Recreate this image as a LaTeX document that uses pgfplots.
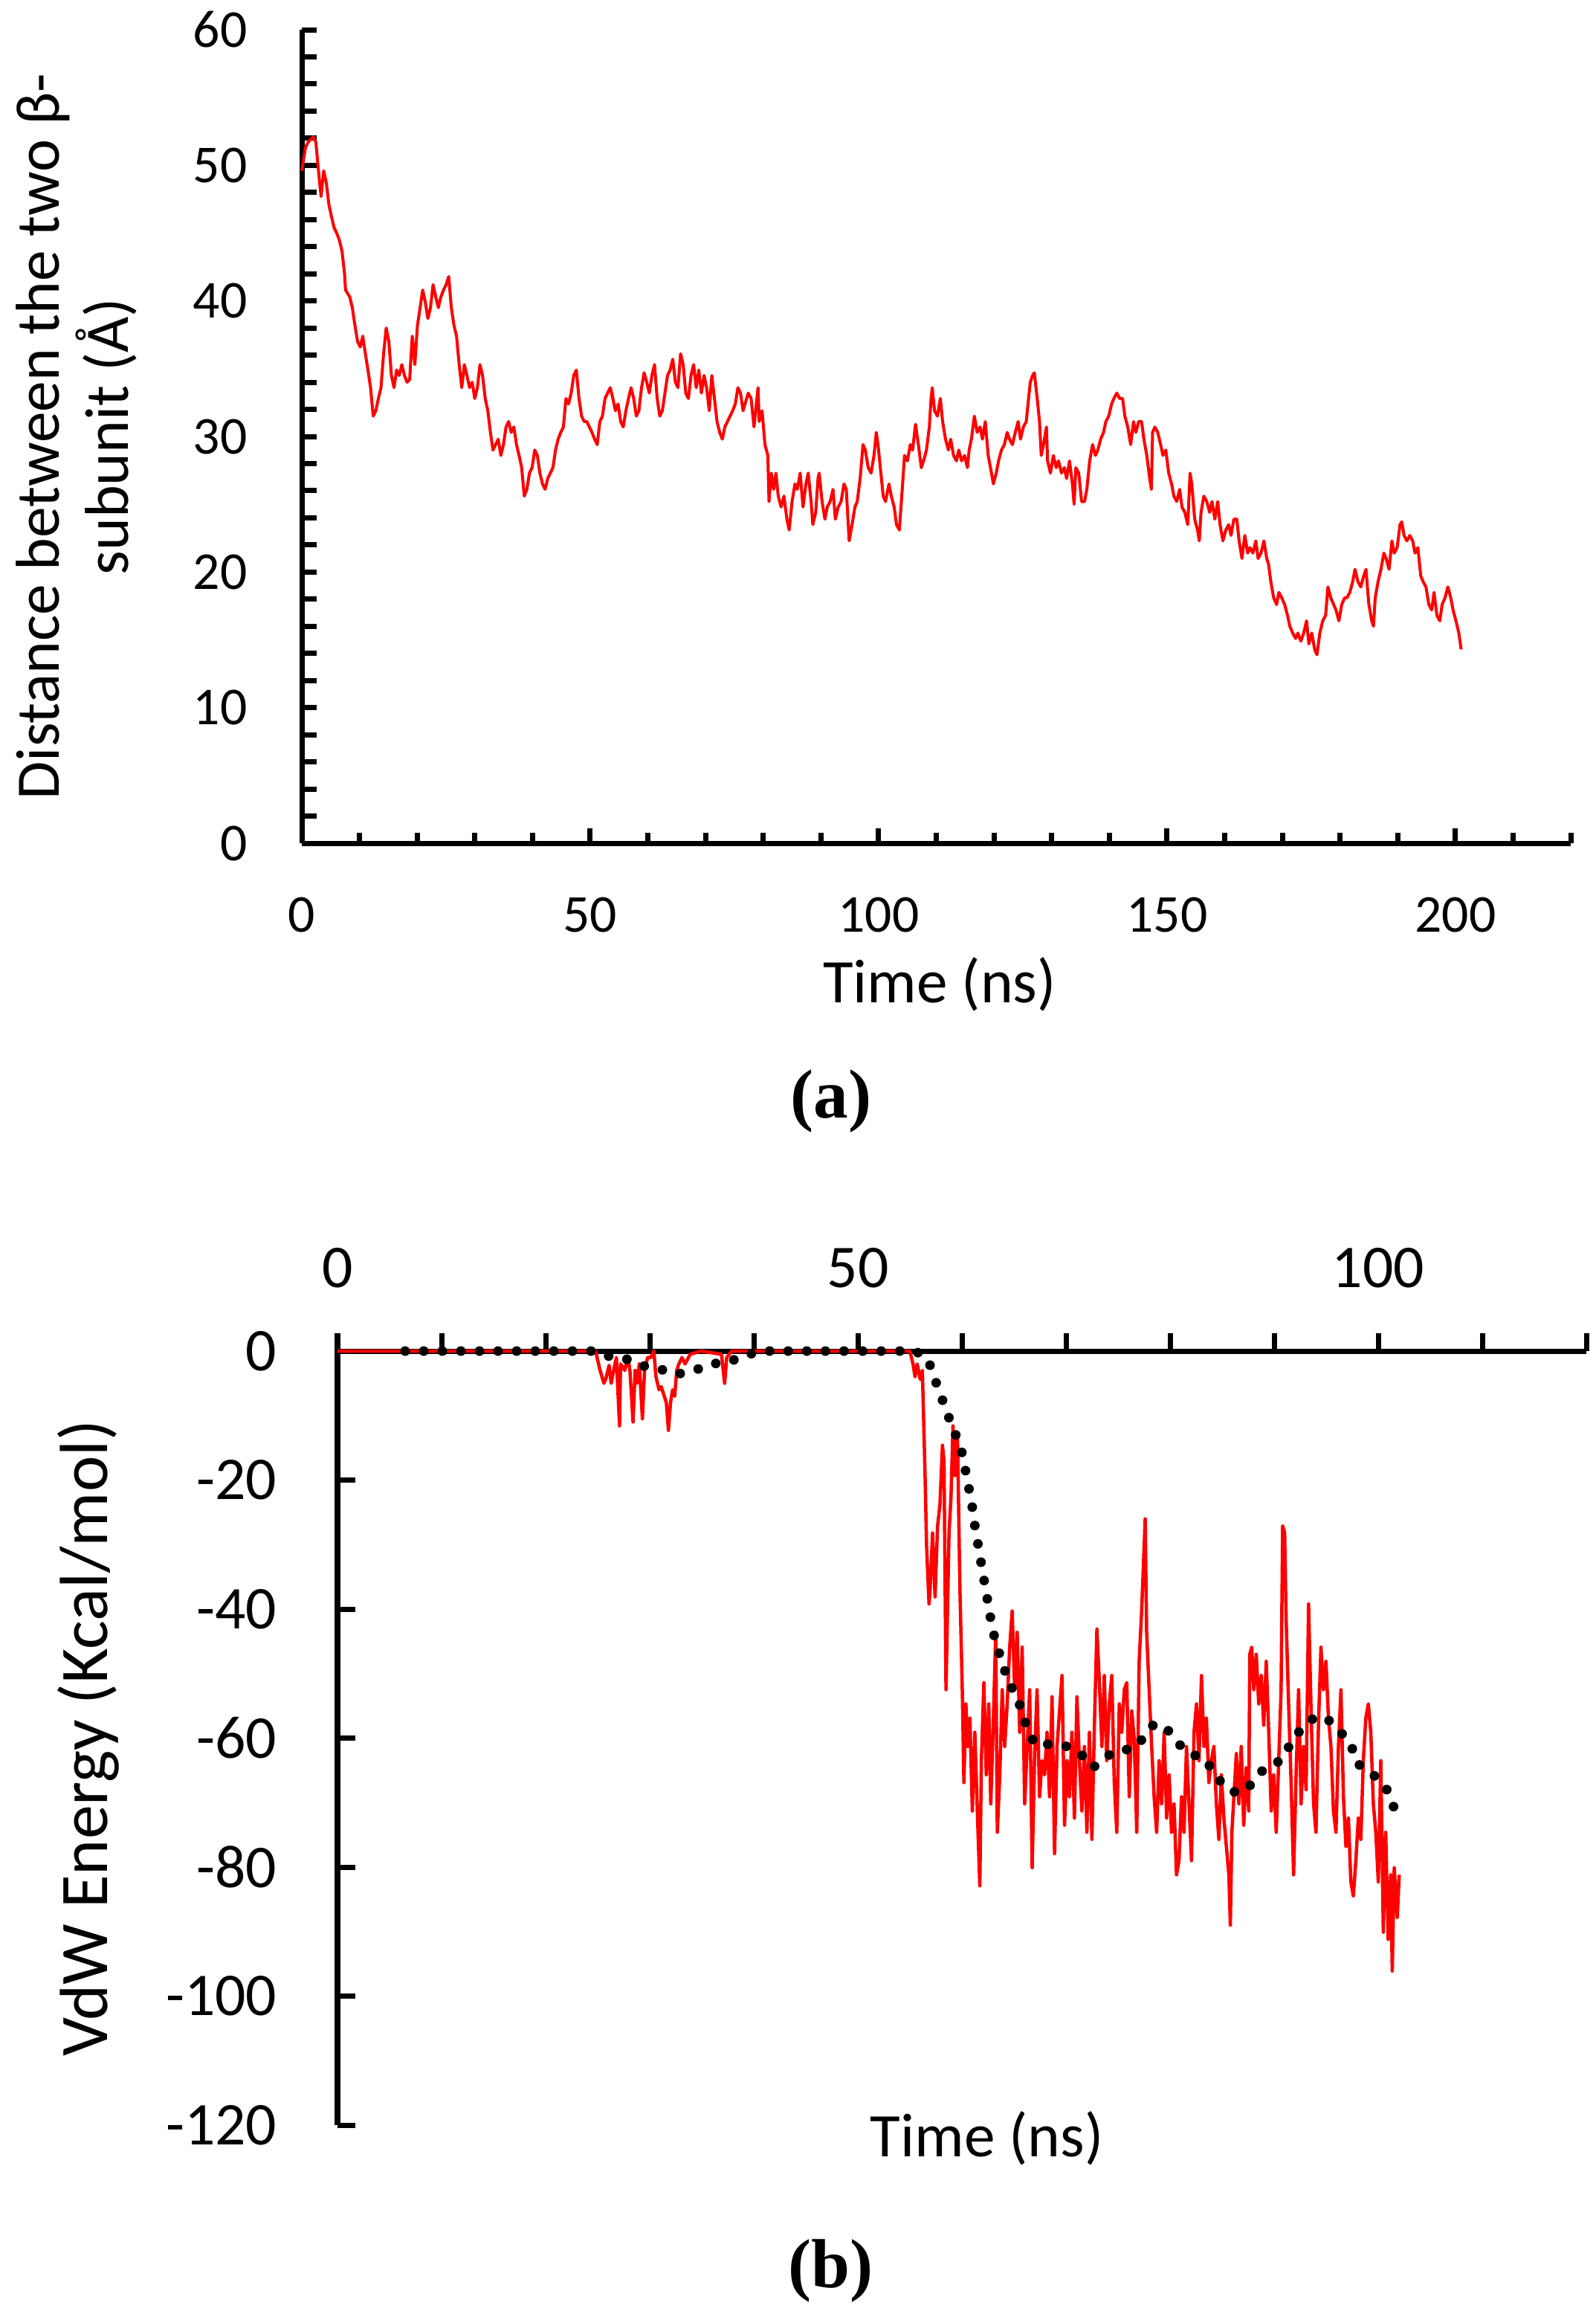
\documentclass[border=0pt]{standalone}
\usepackage{pgfplots}
\pgfplotsset{compat=1.18}
\usepackage{fontspec}
\setmainfont{Carlito}
\newfontfamily\timesfont{Liberation Serif}
\begin{document}
\begin{tikzpicture}
\useasboundingbox (0,0) rectangle (644.1pt,-931.2pt);
% ---------------- panel (a) ----------------
\begin{axis}[
  at={(121.8pt,-340.2pt)}, anchor=south west,
  width=512.1pt, height=328.2pt, scale only axis,
  xmin=0, xmax=220, ymin=0, ymax=60,
  axis lines=left, axis line style={-, line width=2.1pt, black},
  clip=false,
  /pgf/number format/assume math mode=true,
  xtick={0,50,...,200}, xticklabels={0,50,100,150,200},
  minor xtick={10,20,...,220},
  ytick={0,2,...,60},
  yticklabels={0,,,,,10,,,,,20,,,,,30,,,,,40,,,,,50,,,,,60},
  tick align=inside,
  major tick length=6pt, minor tick length=4.2pt,
  tick style={black, line width=2.1pt},
  tick label style={font=\fontsize{21.5}{25}\selectfont, inner sep=0pt},
  xticklabel style={anchor=center, yshift=-28.8pt},
  yticklabel style={anchor=east, xshift=-21.9pt},
  xlabel={Time (ns)},
  xlabel style={at={(axis description cs:0.5026,-0.1737)}, anchor=center, font=\fontsize{25}{28}\selectfont, inner sep=0pt},
  ylabel={Distance between the two β-\\subunit (Å)},
  ylabel style={at={(axis description cs:-0.1778,0.5)}, anchor=center, align=center, font=\fontsize{25}{27.9}\selectfont, inner sep=0pt},
]
\addplot[red, line width=1.2pt, line join=round] table[row sep=\\] {
t v\\
0 49.6\\ 0.63 51.3\\ 1.08 51.7\\ 1.99 52.1\\ 2.44 51.7\\ 2.89 49.6\\ 3.34 47.7\\ 3.79 49.6\\ 4.25 48.7\\ 4.70 47.1\\
5.15 46.2\\ 5.60 45.4\\ 6.05 45.0\\ 6.50 44.5\\ 6.96 43.7\\ 7.41 42.0\\ 7.59 40.8\\ 8.31 40.3\\ 8.76 39.5\\ 9.21 38.2\\
9.67 37.0\\ 10.12 36.6\\ 10.57 37.4\\ 11.02 36.1\\ 11.47 34.9\\ 11.92 33.6\\ 12.38 31.5\\ 12.83 31.9\\ 13.28 32.8\\ 13.73 33.6\\
14.18 36.1\\ 14.63 38.0\\ 15.09 37.0\\ 15.54 34.5\\ 15.99 33.6\\ 16.44 34.9\\ 16.89 34.5\\ 17.34 35.3\\ 17.80 34.5\\ 18.25 34.0\\
18.70 34.2\\ 19.15 37.4\\ 19.60 35.3\\ 20.05 38.2\\ 20.51 39.5\\ 20.96 40.8\\ 21.41 39.9\\ 21.86 38.7\\ 22.31 39.5\\ 22.76 41.2\\
23.22 40.3\\ 23.67 39.5\\ 24.12 40.3\\ 24.57 40.8\\ 25.02 41.2\\ 25.47 41.8\\ 25.92 39.5\\ 26.38 38.2\\ 26.83 37.4\\ 27.28 35.3\\
27.73 33.6\\ 28.18 35.3\\ 28.63 34.5\\ 29.09 33.6\\ 29.54 34.0\\ 29.99 32.8\\ 30.44 33.6\\ 30.89 35.3\\ 31.34 34.5\\ 31.80 32.8\\
32.25 31.9\\ 32.70 30.3\\ 33.15 29.0\\ 33.60 29.4\\ 34.05 29.8\\ 34.51 28.6\\ 34.96 29.4\\ 35.41 30.7\\ 35.86 31.1\\ 36.31 30.3\\
36.76 30.7\\ 37.22 29.4\\ 37.67 28.6\\ 38.12 27.7\\ 38.57 25.6\\ 39.02 26.1\\ 39.47 27.3\\ 39.93 27.7\\ 40.38 29.0\\ 40.83 28.6\\
41.28 27.3\\ 41.73 26.5\\ 42.18 26.1\\ 42.64 26.9\\ 43.09 27.3\\ 43.54 27.7\\ 43.99 29.0\\ 44.44 29.8\\ 44.89 30.3\\ 45.35 30.7\\
45.80 32.8\\ 46.25 32.4\\ 46.70 33.2\\ 47.15 34.5\\ 47.60 34.9\\ 48.06 32.8\\ 48.51 31.5\\ 48.96 31.1\\ 49.41 31.1\\ 49.86 30.7\\
50.31 30.3\\ 50.77 29.8\\ 51.22 29.4\\ 51.67 31.1\\ 52.12 31.5\\ 52.57 32.8\\ 53.02 33.2\\ 53.48 33.6\\ 53.93 32.8\\ 54.38 31.9\\
54.83 32.4\\ 55.28 31.1\\ 55.73 30.7\\ 56.19 31.9\\ 56.64 32.8\\ 57.09 33.6\\ 57.54 32.8\\ 57.99 31.5\\ 58.44 31.9\\ 58.90 33.6\\
59.35 34.7\\ 59.80 34.0\\ 60.25 33.2\\ 60.70 34.5\\ 61.15 35.3\\ 61.61 32.8\\ 62.06 31.5\\ 62.51 31.9\\ 62.96 33.2\\ 63.41 34.5\\
63.86 34.9\\ 64.32 35.7\\ 64.77 34.0\\ 65.22 33.6\\ 65.67 36.1\\ 66.12 35.3\\ 66.57 33.2\\ 67.03 32.8\\ 67.48 34.5\\ 67.93 35.3\\
68.38 33.6\\ 68.83 34.9\\ 69.28 33.2\\ 69.74 34.5\\ 70.19 33.6\\ 70.64 31.9\\ 71.09 34.5\\ 71.54 32.8\\ 71.99 31.1\\ 72.45 30.3\\
72.90 29.8\\ 73.35 30.7\\ 73.80 31.1\\ 74.25 31.5\\ 74.70 31.9\\ 75.16 32.4\\ 75.61 33.6\\ 76.06 33.2\\
76.5 31.9\\ 77.4 33.2\\ 77.9 32.8\\ 78.4 30.7\\ 79.1 33.6\\ 79.3 31.1\\ 79.8 31.9\\ 80.3 29.4\\ 80.8 28.6\\ 81.0 25.2\\
81.4 27.3\\ 81.8 26.1\\ 82.2 27.3\\ 82.6 25.6\\ 83.1 24.8\\ 83.6 25.6\\ 84.1 23.9\\ 84.5 23.1\\ 85.0 25.2\\ 85.5 26.5\\
85.9 26.1\\ 86.4 27.3\\ 86.9 24.8\\ 87.4 26.5\\ 87.8 27.3\\ 88.3 25.2\\ 88.6 23.5\\ 89.1 24.4\\ 89.5 26.9\\ 89.7 27.3\\
90.2 25.2\\ 90.7 23.9\\ 91.1 24.8\\ 91.6 25.2\\ 92.1 26.1\\ 92.5 23.9\\ 93.0 24.8\\ 93.5 25.2\\ 94.0 26.5\\ 94.4 26.1\\
94.9 22.3\\ 95.4 23.5\\ 95.9 24.8\\ 96.3 25.2\\ 96.8 26.9\\ 97.3 29.4\\ 97.7 29.0\\ 98.2 27.7\\ 98.7 27.3\\ 99.2 28.6\\
99.6 30.3\\ 99.9 29.4\\ 100.3 27.7\\ 100.8 25.6\\ 101.2 25.2\\ 101.8 26.5\\ 102.2 25.6\\ 102.7 24.8\\ 103.1 23.5\\ 103.6 23.1\\
104.1 26.1\\ 104.5 28.6\\ 105.0 28.2\\ 105.5 29.4\\ 105.9 29.0\\ 106.4 30.9\\ 106.9 29.4\\ 107.4 27.7\\ 107.8 28.2\\ 108.3 29.0\\
108.8 30.7\\ 109.1 32.8\\ 109.3 33.6\\ 109.7 31.9\\ 110.2 31.5\\ 110.7 32.8\\ 111.1 31.1\\ 111.6 29.8\\ 112.1 29.0\\ 112.5 29.8\\
113.0 28.6\\ 113.5 28.2\\ 113.9 29.0\\ 114.4 28.2\\ 114.9 28.6\\ 115.4 27.7\\ 115.7 29.0\\ 116.1 29.8\\ 116.6 31.5\\ 117.1 30.3\\
117.6 30.7\\ 118.0 29.8\\ 118.5 31.1\\ 119.0 28.6\\ 119.4 27.7\\ 119.9 26.5\\ 120.4 27.3\\ 120.8 28.2\\ 121.3 29.0\\ 121.8 29.4\\
122.3 30.3\\ 122.7 29.8\\ 123.2 29.4\\ 123.7 30.3\\ 124.2 31.1\\ 124.6 29.8\\ 125.1 30.7\\ 125.6 31.1\\ 126.0 32.8\\ 126.3 34.0\\
126.7 34.5\\ 127.0 34.7\\ 127.5 32.8\\ 127.9 31.1\\ 128.2 28.6\\ 128.6 29.4\\ 129.1 30.7\\ 129.3 28.2\\ 129.8 27.3\\ 130.3 28.6\\
130.8 27.7\\ 131.2 28.2\\ 131.7 27.3\\ 132.2 27.7\\ 132.6 26.9\\ 133.1 28.2\\ 133.6 26.5\\ 133.9 25.0\\ 134.2 27.7\\ 134.7 27.3\\
135.2 25.2\\ 135.7 25.2\\ 136.1 26.1\\ 136.6 28.2\\ 137.1 29.4\\ 137.6 28.6\\ 138.0 29.0\\ 138.5 29.8\\ 139.0 30.3\\ 139.4 31.1\\
139.9 31.5\\ 140.4 32.4\\ 140.8 32.8\\ 141.3 33.2\\ 141.8 32.8\\ 142.3 32.8\\ 142.7 31.5\\ 143.2 30.7\\ 143.7 29.4\\ 144.2 31.1\\
144.6 30.3\\ 145.1 31.1\\ 145.6 31.1\\ 146.0 29.8\\ 146.5 28.6\\ 147.0 26.9\\ 147.3 26.1\\ 147.5 30.3\\ 147.9 30.7\\ 148.4 30.3\\
148.9 29.4\\ 149.3 28.6\\ 149.8 29.0\\ 150.3 27.3\\ 150.8 26.5\\ 151.2 25.6\\ 151.7 25.2\\ 152.2 26.1\\ 152.6 24.8\\ 153.1 24.4\\
153.6 23.5\\ 154.0 27.3\\ 154.3 26.5\\ 154.8 23.9\\ 155.3 23.1\\ 155.6 22.3\\ 155.9 24.4\\ 156.4 25.6\\ 156.9 25.2\\ 157.4 24.4\\
157.8 25.2\\ 158.3 23.9\\ 158.8 25.2\\ 159.2 23.5\\ 159.7 22.3\\ 160.2 23.1\\ 160.7 23.5\\ 161.1 22.7\\ 161.6 23.9\\ 162.1 23.9\\
162.5 22.3\\ 163.0 21.0\\ 163.5 22.7\\ 164.0 21.4\\ 164.4 21.8\\ 164.9 21.4\\ 165.4 22.3\\ 165.8 21.0\\ 166.3 21.4\\ 166.8 22.3\\
167.3 21.0\\ 167.6 20.6\\ 168.0 19.3\\ 168.5 18.1\\ 169.0 17.6\\ 169.4 18.5\\ 169.9 18.1\\ 170.4 17.6\\ 170.9 16.8\\ 171.3 16.0\\
171.8 15.5\\ 172.3 15.1\\ 172.7 15.5\\ 173.2 14.9\\ 173.7 15.5\\ 174.2 16.4\\ 174.6 14.7\\ 175.1 15.5\\ 175.6 14.3\\ 176.0 13.9\\
176.5 15.5\\ 177.0 16.4\\ 177.5 16.8\\ 177.9 18.9\\ 178.4 18.1\\ 178.9 17.6\\ 179.3 17.2\\ 179.8 16.4\\ 180.3 17.6\\ 180.8 18.1\\
181.2 18.1\\ 181.7 18.5\\ 182.2 19.3\\ 182.6 20.2\\ 183.1 19.3\\ 183.6 18.9\\ 184.1 19.7\\ 184.5 20.2\\ 185.0 17.6\\ 185.5 16.4\\
185.8 16.0\\ 186.1 18.1\\ 186.6 19.3\\ 187.1 20.2\\ 187.6 21.4\\ 188.0 21.0\\ 188.5 20.2\\ 189.0 22.3\\ 189.4 21.4\\ 189.9 21.8\\
190.4 23.5\\ 190.7 23.7\\ 191.1 22.7\\ 191.6 22.3\\ 192.1 22.7\\ 192.6 22.3\\ 193.0 21.4\\ 193.5 21.8\\ 194.0 19.7\\ 194.4 19.3\\
194.9 18.9\\ 195.4 17.6\\ 195.9 17.2\\ 196.3 18.5\\ 196.8 16.8\\ 197.3 16.4\\ 197.7 17.6\\ 198.2 18.1\\ 198.7 18.9\\ 199.2 18.1\\
199.6 17.2\\ 200.1 16.4\\ 200.6 15.5\\ 201.0 14.3\\
};
\end{axis}
\node[font={\timesfont\bfseries\fontsize{28}{30}\selectfont}, inner sep=0pt] at (335.3pt,-444.3pt) {(a)};
% ---------------- panel (b) ----------------
\begin{axis}[
  at={(136.2pt,-857.4pt)}, anchor=south west,
  width=504pt, height=312.3pt, scale only axis,
  xmin=0, xmax=120, ymin=-120, ymax=0,
  axis x line=top, axis y line=left,
  axis line style={-, line width=2.1pt, black},
  clip=false,
  /pgf/number format/assume math mode=true,
  xtick={0,10,...,120}, xticklabels={0,,,,,50,,,,,100,,},
  ytick={-120,-100,...,0}, yticklabels={-120,-100,-80,-60,-40,-20,0},
  xtick align=outside, ytick align=inside,
  major tick length=7.2pt,
  tick style={black, line width=2.1pt},
  tick label style={font=\fontsize{24.5}{28}\selectfont, inner sep=0pt},
  xticklabel style={anchor=center, yshift=26.4pt},
  yticklabel style={anchor=east, xshift=-24.3pt},
  xlabel={Time (ns)},
  xlabel style={at={(axis description cs:0.52,-0.0173)}, anchor=center, font=\fontsize{25}{28}\selectfont, inner sep=0pt},
  ylabel={VdW Energy (Kcal/mol)},
  ylabel style={at={(axis description cs:-0.1994,0.5)}, anchor=center, font=\fontsize{27.5}{30}\selectfont, inner sep=0pt},
]
\addplot[red, line width=1.35pt, line join=round] table[row sep=\\] {
t v\\
0 0\\ 24.8 0\\ 25.2 -2.8\\ 25.6 -5.0\\ 25.8 -4.2\\ 26.1 -2.2\\ 26.3 -5.0\\ 26.6 -2.5\\ 26.8 -1.0\\ 27.1 -11.6\\
27.2 -2.0\\ 27.6 -3.0\\ 27.9 -1.0\\ 28.1 -3.0\\ 28.4 -11.0\\ 28.6 -3.0\\ 28.8 -5.0\\ 29.0 -2.0\\ 29.3 -10.5\\ 29.5 -3.0\\
29.8 -1.0\\ 30.1 -1.0\\ 30.4 0\\ 30.6 -4.0\\ 30.9 -6.0\\ 31.1 -5.5\\ 31.4 -7.0\\ 31.6 -8.0\\ 31.8 -12.3\\ 32.0 -8.0\\
32.2 -6.0\\ 32.4 -7.0\\ 32.6 -3.0\\ 32.8 -2.0\\ 33.1 -1.0\\ 33.4 -2.0\\ 33.9 -0.5\\ 34.9 0\\ 36.9 -0.5\\ 37.2 -5.0\\
37.4 -1.0\\ 37.9 0\\ 55.0 0\\ 55.3 -2.0\\ 55.5 -4.0\\ 55.7 -2.0\\ 56.0 -4.4\\ 56.2 -3.0\\ 56.46 -19.3\\ 56.60 -30.0\\
56.84 -39.2\\ 56.94 -37.0\\ 57.18 -28.2\\ 57.42 -38.1\\ 57.66 -27.1\\ 57.89 -23.8\\ 58.13 -14.6\\ 58.28 -17.1\\ 58.47 -52.5\\ 58.76 -28.2\\
58.95 -22.7\\ 59.14 -11.6\\ 59.33 -19.3\\ 59.57 -12.7\\ 59.81 -37.0\\ 60.05 -53.6\\ 60.19 -66.9\\ 60.38 -54.7\\ 60.57 -61.3\\ 60.77 -56.9\\
61.00 -71.3\\ 61.24 -59.1\\ 61.48 -71.3\\ 61.72 -82.9\\ 61.87 -63.5\\ 62.11 -51.4\\ 62.34 -65.7\\ 62.58 -54.7\\ 62.77 -70.2\\ 63.01 -58.0\\
63.25 -43.6\\ 63.40 -74.6\\ 63.64 -65.7\\ 63.87 -52.5\\ 64.11 -61.3\\ 64.35 -54.7\\ 64.59 -45.9\\ 64.83 -40.3\\ 65.07 -52.5\\ 65.31 -43.6\\
65.55 -59.1\\ 65.79 -45.9\\ 66.03 -70.2\\ 66.27 -61.3\\ 66.51 -52.5\\ 66.75 -80.1\\ 66.99 -62.4\\ 67.22 -52.5\\ 67.46 -69.1\\ 67.70 -63.5\\
67.94 -65.7\\ 68.18 -59.1\\ 68.42 -69.1\\ 68.66 -53.6\\ 68.90 -77.9\\ 69.14 -61.3\\ 69.38 -55.8\\ 69.62 -50.3\\ 69.86 -73.5\\ 70.10 -63.5\\
70.33 -69.1\\ 70.57 -59.1\\ 70.81 -72.4\\ 71.05 -53.6\\ 71.29 -63.5\\ 71.53 -71.3\\ 71.77 -61.3\\ 72.01 -74.6\\ 72.25 -59.1\\ 72.49 -75.7\\
72.73 -58.0\\ 72.97 -43.1\\ 73.21 -51.4\\ 73.45 -61.3\\ 73.68 -50.3\\ 73.92 -63.5\\ 74.16 -54.7\\ 74.40 -50.3\\ 74.64 -66.9\\ 74.88 -74.6\\
75.12 -54.7\\ 75.36 -59.1\\ 75.60 -52.5\\ 75.84 -51.4\\ 76.08 -69.1\\ 76.32 -55.8\\ 76.56 -60.2\\ 76.80 -74.6\\ 77.03 -48.1\\ 77.27 -40.3\\
77.61 -26.0\\ 77.75 -43.6\\ 77.99 -52.5\\ 78.23 -61.3\\ 78.47 -69.1\\ 78.71 -74.6\\ 78.95 -63.5\\ 79.19 -70.2\\ 79.43 -59.1\\ 79.67 -72.4\\
79.91 -65.7\\ 80.14 -74.6\\ 80.38 -70.2\\ 80.62 -81.2\\ 80.86 -79.0\\ 81.10 -69.1\\ 81.34 -74.6\\ 81.58 -61.3\\ 81.82 -70.2\\ 82.06 -79.0\\
82.30 -59.1\\ 82.54 -54.7\\ 82.78 -63.5\\ 83.02 -50.3\\ 83.26 -61.3\\ 83.49 -56.9\\ 83.73 -66.9\\ 83.97 -63.5\\ 84.21 -61.3\\ 84.45 -70.2\\
84.69 -75.7\\ 84.93 -65.7\\ 85.17 -72.4\\ 85.41 -76.8\\ 85.65 -81.2\\ 85.79 -89.0\\ 85.94 -74.6\\ 86.13 -69.1\\ 86.37 -62.4\\ 86.61 -70.2\\
86.84 -61.3\\ 87.08 -73.5\\ 87.32 -64.6\\ 87.56 -71.3\\ 87.66 -47.0\\ 87.85 -45.9\\ 88.04 -52.5\\ 88.28 -47.0\\ 88.52 -54.7\\ 88.76 -50.3\\
89.00 -58.0\\ 89.24 -48.1\\ 89.48 -59.1\\ 89.72 -71.3\\ 89.96 -65.7\\ 90.20 -74.6\\ 90.44 -63.5\\ 90.67 -52.5\\ 90.82 -27.1\\ 91.01 -28.2\\
91.15 -41.4\\ 91.39 -54.7\\ 91.63 -66.9\\ 91.87 -81.2\\ 92.11 -65.7\\ 92.35 -52.5\\ 92.59 -70.2\\ 92.83 -61.3\\ 93.07 -68.0\\ 93.31 -39.2\\
93.55 -55.8\\ 93.79 -70.2\\ 94.02 -74.6\\ 94.26 -58.0\\ 94.50 -45.9\\ 94.74 -52.5\\ 94.98 -48.1\\ 95.22 -56.9\\ 95.46 -61.3\\ 95.70 -71.3\\
95.94 -74.6\\ 96.18 -61.3\\ 96.42 -52.5\\ 96.66 -69.1\\ 96.90 -76.8\\ 97.14 -72.4\\ 97.37 -82.3\\ 97.61 -84.5\\ 97.85 -79.0\\ 98.09 -72.4\\
98.33 -75.7\\ 98.57 -63.5\\ 98.81 -56.9\\ 99.05 -54.7\\ 99.29 -59.1\\ 99.53 -70.2\\ 99.77 -74.6\\ 100.01 -82.3\\ 100.25 -63.5\\ 100.49 -90.1\\
100.72 -74.6\\ 100.96 -91.2\\ 101.20 -81.2\\ 101.35 -96.1\\ 101.54 -80.1\\ 101.83 -87.8\\ 102.02 -81.2\\
};
\addplot[black, line width=3.9pt, line cap=round, dash pattern=on 0pt off 7.5pt] table[row sep=\\] {
t v\\
6.5 0\\ 24.8 0\\ 26.1 -0.8\\ 27.7 -1.2\\ 29.4 -2.3\\ 31.0 -2.8\\ 32.6 -3.6\\ 34.3 -3.0\\ 35.9 -2.0\\ 37.6 -1.7\\
39.2 -0.6\\ 41.0 0\\ 55.5 0\\ 56.7 -1.1\\ 57.3 -3.9\\ 57.9 -6.6\\ 58.5 -9.2\\ 59.1 -11.9\\ 59.8 -14.4\\ 60.2 -17.1\\
60.5 -20.1\\ 60.9 -22.9\\ 61.1 -25.7\\ 61.4 -28.6\\ 61.7 -31.5\\ 62.0 -34.3\\ 62.3 -37.1\\ 62.6 -40.0\\ 62.9 -42.8\\ 63.3 -45.5\\
63.9 -48.3\\ 64.4 -51.1\\ 65.2 -53.3\\ 65.8 -56.0\\ 66.3 -58.8\\ 67.1 -61.1\\ 68.6 -60.9\\ 70.1 -61.3\\ 71.4 -62.4\\ 72.6 -64.6\\
73.7 -63.0\\ 75.0 -61.9\\ 76.4 -61.7\\ 77.5 -59.9\\ 78.5 -57.7\\ 79.8 -58.8\\ 80.9 -61.0\\ 82.0 -62.5\\ 83.3 -63.1\\ 84.2 -65.3\\
85.2 -67.5\\ 86.5 -68.6\\ 87.8 -67.2\\ 88.9 -65.0\\ 90.0 -64.2\\ 91.0 -62.8\\ 91.7 -60.3\\ 92.8 -58.3\\ 94.0 -56.6\\ 95.3 -57.3\\
96.4 -59.1\\ 97.4 -60.9\\ 97.8 -63.7\\ 99.0 -65.1\\ 100.1 -66.4\\ 101.1 -68.6\\ 101.6 -71.3\\
};
\end{axis}
\node[font={\timesfont\bfseries\fontsize{28}{30}\selectfont}, inner sep=0pt] at (335.3pt,-916.1pt) {(b)};
\end{tikzpicture}
\end{document}
